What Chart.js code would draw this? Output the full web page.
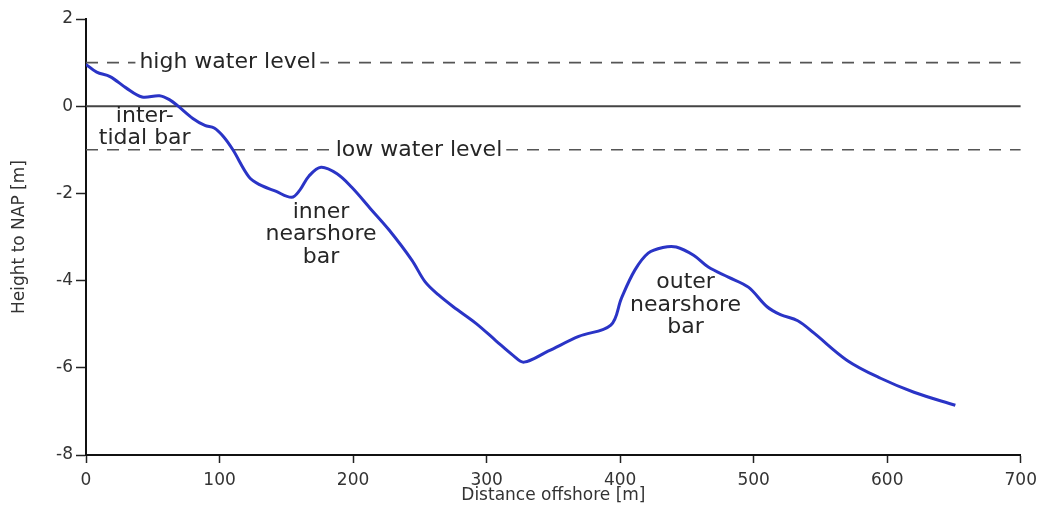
<!DOCTYPE html>
<html>
<head>
<meta charset="utf-8">
<script src="https://cdn.jsdelivr.net/npm/chart.js@4.4.1/dist/chart.umd.min.js"></script>
<style>
  html, body { margin: 0; padding: 0; background: #fff; }
  #wrap { width: 1044px; height: 516px; }
</style>
</head>
<body>
<div id="wrap"><canvas id="c" width="1044" height="516"></canvas></div>
<script>
// Beach profile: distance offshore [m] vs height relative to NAP [m]
const distance = [0, 8, 18, 30, 42, 55, 63, 69, 80, 89, 96, 103, 110, 122, 130, 142, 154, 160, 167, 176, 188, 199, 213, 227, 244, 254, 264, 275, 292, 307, 320, 328, 346, 369, 393, 401, 411, 421, 432, 442, 455, 466, 481, 496, 510, 520, 533, 545, 570, 595, 620, 651];
const height   = [0.96, 0.78, 0.68, 0.42, 0.21, 0.24, 0.14, 0.0, -0.28, -0.44, -0.5, -0.7, -1.0, -1.62, -1.8, -1.95, -2.09, -1.93, -1.6, -1.4, -1.55, -1.86, -2.35, -2.84, -3.53, -4.03, -4.33, -4.6, -4.98, -5.38, -5.72, -5.87, -5.62, -5.28, -5.02, -4.4, -3.76, -3.37, -3.24, -3.23, -3.42, -3.69, -3.92, -4.15, -4.6, -4.78, -4.92, -5.2, -5.83, -6.24, -6.56, -6.86];

// Reference water levels
const highWater = 1;
const lowWater = -1;
const napLevel = 0;
const xRange = [0, 700];

const xTicks = [0, 100, 200, 300, 400, 500, 600, 700];
const yTicks = [-8, -6, -4, -2, 0, 2];

// Text labels anchored in data space
const levelLabels = [
  { x: 40, y: highWater, text: 'high water level' },
  { x: 187, y: lowWater, text: 'low water level' }
];
const barLabels = [
  { x: 44, y: -0.23, lines: ['inter-', 'tidal bar'] },
  { x: 176, y: -2.43, lines: ['inner', 'nearshore', 'bar'] },
  { x: 449, y: -4.04, lines: ['outer', 'nearshore', 'bar'] }
];

const FONT = '"DejaVu Sans", Verdana, sans-serif';
const TEXT = '#262626';

const labelPlugin = {
  id: 'profileLabels',
  afterDatasetsDraw(chart) {
    const { ctx, scales } = chart;
    const sx = scales.x, sy = scales.y;
    ctx.save();
    ctx.font = '22px ' + FONT;
    ctx.textBaseline = 'middle';
    // water level labels, set in a gap of the dashed line
    levelLabels.forEach(l => {
      const px = sx.getPixelForValue(l.x);
      const py = sy.getPixelForValue(l.y);
      const w = ctx.measureText(l.text).width;
      ctx.fillStyle = '#ffffff';
      ctx.fillRect(px - 4, py - 5, w + 8, 10);
      ctx.fillStyle = TEXT;
      ctx.textAlign = 'left';
      ctx.fillText(l.text, px, py);
    });
    // bar names
    ctx.fillStyle = TEXT;
    ctx.textAlign = 'center';
    barLabels.forEach(b => {
      const px = sx.getPixelForValue(b.x);
      let py = sy.getPixelForValue(b.y);
      b.lines.forEach(line => {
        ctx.fillText(line, px, py);
        py += 22.5;
      });
    });
    ctx.restore();
  }
};

new Chart(document.getElementById('c'), {
  type: 'scatter',
  data: {
    datasets: [
      {
        label: 'profile',
        data: distance.map((d, i) => ({ x: d, y: height[i] })),
        showLine: true,
        borderColor: '#2a34c6',
        borderWidth: 3,
        pointRadius: 0,
        tension: 0.35,
        order: 0
      },
      {
        label: 'high water',
        data: [{ x: xRange[0], y: highWater }, { x: xRange[1], y: highWater }],
        showLine: true, borderColor: '#555', borderWidth: 1.6, borderDash: [12, 9],
        pointRadius: 0, order: 2
      },
      {
        label: 'NAP',
        data: [{ x: xRange[0], y: napLevel }, { x: xRange[1], y: napLevel }],
        showLine: true, borderColor: '#444', borderWidth: 2,
        pointRadius: 0, order: 2
      },
      {
        label: 'low water',
        data: [{ x: xRange[0], y: lowWater }, { x: xRange[1], y: lowWater }],
        showLine: true, borderColor: '#555', borderWidth: 1.6, borderDash: [12, 9],
        pointRadius: 0, order: 2
      }
    ]
  },
  options: {
    responsive: false,
    animation: false,
    events: [],
    layout: { padding: { top: 19, right: 20, left: 0, bottom: 0 } },
    plugins: { legend: { display: false }, tooltip: { enabled: false } },
    scales: {
      x: {
        type: 'linear',
        min: xRange[0], max: xRange[1],
        afterBuildTicks: s => { s.ticks = xTicks.map(v => ({ value: v })); },
        afterFit: s => { s.height = 61; },
        border: { color: '#111', width: 2 },
        grid: { drawOnChartArea: false, tickLength: 8, tickColor: '#222', tickWidth: 1.5 },
        ticks: { color: '#333', font: { family: FONT, size: 17 }, padding: 7 },
        title: { display: true, text: 'Distance offshore [m]', color: '#333', font: { family: FONT, size: 17 }, padding: { top: 0, bottom: 10 } }
      },
      y: {
        type: 'linear',
        min: -8, max: 2,
        afterBuildTicks: s => { s.ticks = yTicks.map(v => ({ value: v })); },
        afterFit: s => { s.width = 86; },
        border: { color: '#111', width: 2 },
        grid: { drawOnChartArea: false, tickLength: 10, tickColor: '#222', tickWidth: 1.5 },
        ticks: { color: '#333', font: { family: FONT, size: 17 }, padding: 3 },
        title: { display: true, text: 'Height to NAP [m]', color: '#333', font: { family: FONT, size: 17 }, padding: { top: 9, bottom: 0 } }
      }
    }
  },
  plugins: [labelPlugin]
});
</script>
</body>
</html>
